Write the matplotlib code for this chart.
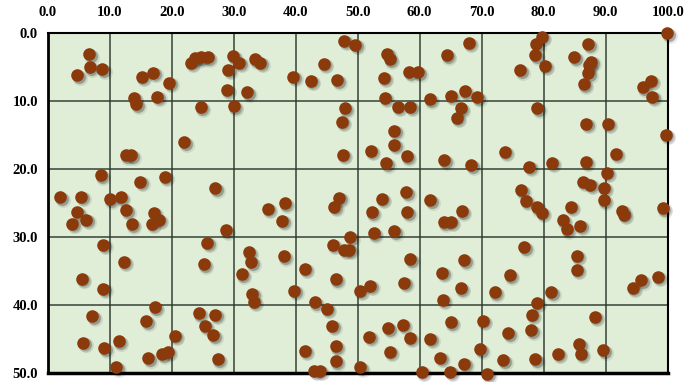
import matplotlib.pyplot as plt
from matplotlib import transforms

x = [6.7, 6.8, 8.8, 4.8, 15.2, 17.0, 19.6, 13.9, 14.3, 17.7,
     23.1, 23.8, 24.7, 25.8, 29.9, 30.9, 33.4, 34.3, 29.1, 28.9,
     32.2, 24.7, 30.0, 22.0, 12.6, 13.5, 8.6, 14.9, 18.9, 27.0,
     2.0, 5.4, 10.0, 11.8, 47.8, 49.6, 44.5, 39.6, 42.4, 46.7,
     54.8, 55.2, 54.2, 58.3, 59.8, 64.4, 54.4, 56.5, 58.5, 61.6,
     65.0, 67.3, 69.3, 47.9, 47.4, 55.9, 55.9, 52.1, 57.9, 54.6,
     47.6, 64.0, 66.6, 66.0, 38.2, 47.0, 53.9, 57.8, 61.7, 67.9,
     79.7, 78.8, 78.6, 80.2, 76.2, 87.2, 84.9, 87.7, 87.3, 87.2,
     86.5, 99.9, 97.3, 96.0, 97.5, 79.0, 86.9, 90.3, 99.7, 73.7,
     91.6, 68.3, 77.7, 81.3, 86.8, 90.2, 86.3, 87.5, 89.7, 89.7,
     76.4, 77.1, 4.8, 6.2, 4.0, 12.7, 13.6, 17.1, 17.9, 16.8,
     28.7, 9.0, 25.7, 12.3, 25.2, 32.4, 32.8, 31.3, 33.0, 33.2,
     5.5, 9.0, 7.2, 17.25, 15.9, 20.5, 24.4, 27.0, 25.3, 26.7,
     27.4, 5.7, 9.1, 11.5, 11.1, 16.2, 18.5, 19.4, 35.5, 37.8,
     46.2, 52.3, 58.0, 52.6, 55.9, 63.9, 65.05, 66.8, 48.8, 46.0,
     47.8, 48.6, 38.1, 41.5, 46.5, 58.5, 57.5, 52.0, 50.3, 39.8,
     43.1, 45.0, 63.6, 66.6, 63.7, 67.2, 45.9, 41.5, 46.5, 46.5,
     43.0, 43.9, 50.4, 51.9, 54.9, 57.3, 58.4, 55.2, 61.7, 65.0,
     63.3, 60.3, 64.9, 67.2, 78.9, 79.7, 84.4, 83.1, 83.7, 85.9,
     92.7, 92.9, 99.2, 76.9, 85.3, 85.3, 74.5, 72.1, 81.2, 78.9,
     94.4, 95.7, 98.4, 70.2, 78.1, 78.0, 74.3, 88.2, 69.8, 73.5,
     78.6, 70.9, 82.3, 85.7, 86.0, 89.6]
y = [3.1, 5.0, 5.25, 6.2, 6.4, 5.8, 7.3, 9.5, 10.4, 9.3,
     4.3, 3.7, 3.5, 3.5, 3.4, 4.3, 3.8, 4.3, 5.35, 8.3,
     8.7, 10.9, 10.7, 16.0, 17.9, 17.9, 20.9, 21.8, 21.1, 22.75,
     24.1, 24.0, 24.4, 24.1, 1.13, 1.7, 4.5, 6.4, 7.0, 6.9,
     3.0, 3.8, 6.5, 5.7, 5.7, 3.2, 9.5, 10.8, 10.8, 9.7,
     9.2, 8.55, 9.4, 11.0, 13.0, 14.3, 16.4, 17.3, 18.1, 19.1,
     17.85, 18.7, 11.0, 12.4, 25.0, 24.2, 24.35, 23.4, 24.55, 1.4,
     0.54, 1.6, 3.2, 4.8, 5.45, 1.6, 3.5, 4.2, 4.7, 5.9,
     7.5, 0.0, 7.0, 7.9, 9.3, 11.0, 13.3, 13.3, 14.9, 17.4,
     17.7, 19.4, 19.6, 19.0, 18.9, 20.5, 21.8, 22.3, 22.7, 24.55,
     23.1, 24.6, 26.3, 27.4, 28.0, 26.0, 28.1, 26.4, 27.4, 28.0,
     29.0, 31.1, 30.8, 33.6, 34.0, 32.2, 33.7, 35.4, 38.3, 39.5,
     36.1, 37.6, 41.6, 40.3, 42.35, 44.5, 41.2, 41.4, 43.0, 44.4,
     47.9, 45.5, 46.3, 45.3, 49.1, 47.8, 47.2, 46.8, 25.8, 27.6,
     25.5, 26.3, 26.3, 29.4, 29.1, 27.8, 27.7, 26.15, 30.0, 31.1,
     31.8, 31.8, 32.8, 34.6, 36.2, 33.2, 36.7, 37.1, 37.85, 37.85,
     39.55, 40.5, 35.2, 37.5, 39.2, 33.4, 43.0, 46.7, 46.0, 48.2,
     49.6, 49.6, 49.1, 44.6, 43.4, 42.85, 44.8, 46.8, 44.9, 42.5,
     47.75, 49.8, 49.8, 48.6, 25.6, 26.4, 25.5, 27.5, 28.8, 28.3,
     26.1, 26.7, 25.7, 31.5, 32.7, 34.8, 35.6, 38.1, 38.1, 39.6,
     37.4, 36.3, 35.8, 42.3, 41.4, 43.7, 44.1, 41.7, 46.5, 48.1,
     47.9, 50.1, 47.1, 45.7, 47.1, 46.6]

xticks = [0, 10, 20, 30, 40, 50, 60, 70, 80, 90, 100]
yticks = [0, 10, 20, 30, 40, 50]

fig = plt.figure(figsize=(6.86, 3.82), dpi=100)
ax = fig.add_axes([0.0695, 0.0228, 0.9038, 0.89])
ax.set_facecolor('#e0edd7')
ax.set_xlim(0, 100)
ax.set_ylim(50, 0)

ax.set_xticks(xticks)
ax.set_yticks(yticks)
ax.set_xticklabels([f"{v:.1f}" for v in xticks])
ax.set_yticklabels([f"{v:.1f}" for v in yticks])
ax.xaxis.tick_top()
ax.tick_params(axis='x', length=0, pad=10)
ax.tick_params(axis='y', length=0, pad=7)
for lab in ax.get_xticklabels() + ax.get_yticklabels():
    lab.set_fontfamily('Liberation Serif')
    lab.set_fontweight('bold')
    lab.set_fontsize(10.5)

ax.grid(True, color='#2e3a2e', alpha=0.75, linewidth=1.4)
ax.set_axisbelow(True)
for side in ['top', 'right']:
    ax.spines[side].set_linewidth(1.5)
ax.spines['left'].set_linewidth(2.0)
ax.spines['bottom'].set_linewidth(2.5)

# soft drop shadow under the dots
for dx, dy, k, a in [(2.5, -2.5, 1.45, 0.08), (2, -2, 1.2, 0.12), (1.5, -1.5, 1.0, 0.18)]:
    off = transforms.offset_copy(ax.transData, fig=fig, x=dx, y=dy, units='dots')
    ax.scatter(x, y, s=82 * k, color='black', alpha=a, linewidths=0,
               transform=off, clip_on=False, zorder=3)
ax.scatter(x, y, s=82, color='#8b3a0c', linewidths=0, clip_on=False, zorder=4)

plt.savefig("out.png", dpi=100)
